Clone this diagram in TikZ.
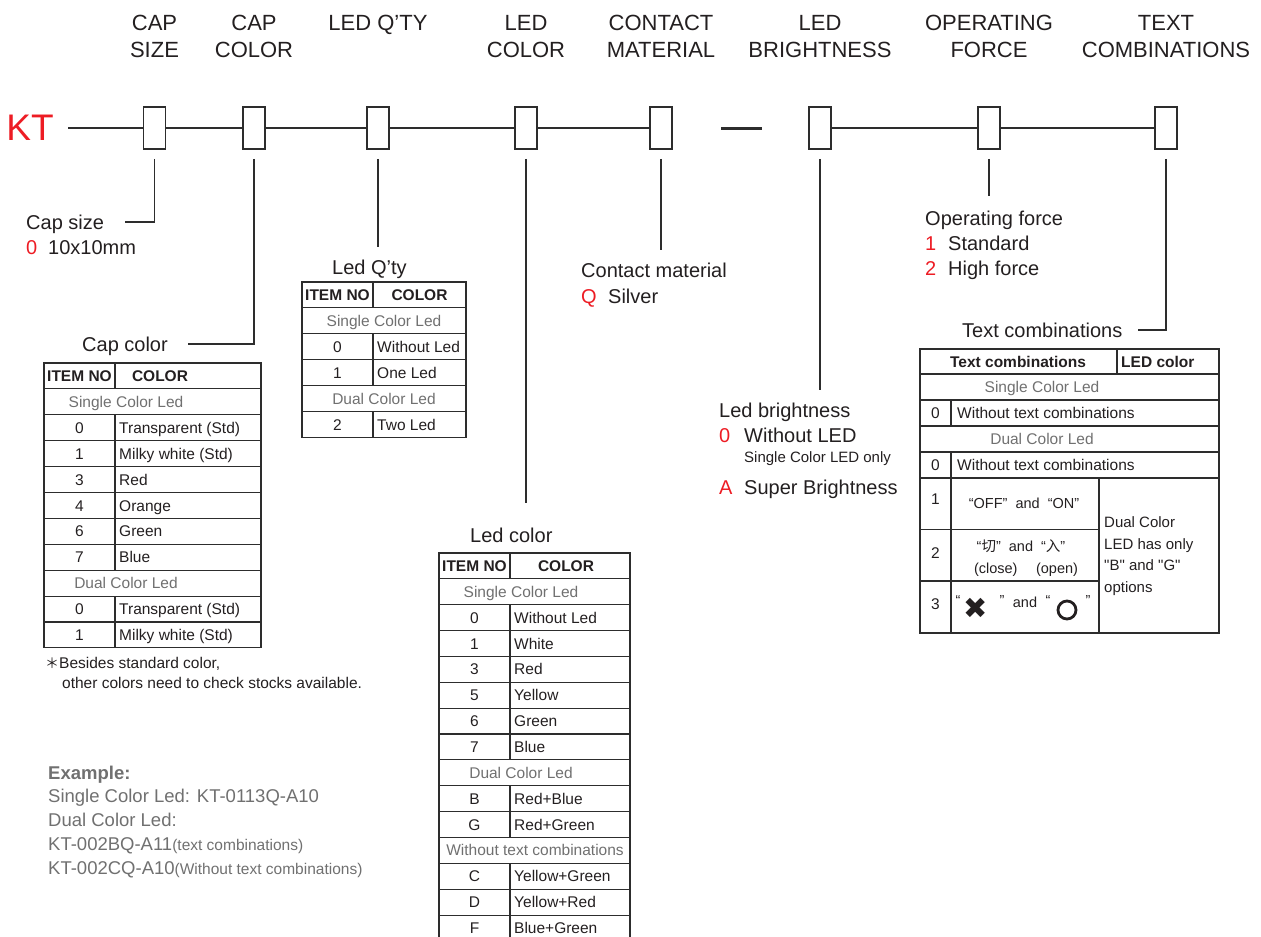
\documentclass[tikz,border=0pt]{standalone}
\usepackage{fontspec}
\setmainfont{Liberation Sans}[Ligatures=TeXOff]
\newfontfamily\cjk{Noto Sans CJK SC}
\newfontfamily\dejavu{DejaVu Sans}
\definecolor{kred}{RGB}{237,28,36}
\definecolor{ink}{RGB}{35,31,32}
\definecolor{gtext}{RGB}{112,112,112}
\definecolor{lcol}{RGB}{45,45,45}
\begin{document}
\begin{tikzpicture}[x=1pt,y=-1pt,
  hdr/.style={font=\fontsize{22}{27}\selectfont, align=center, anchor=north, inner sep=0pt, text=ink},
  lab/.style={font=\fontsize{20}{24}\selectfont, inner sep=0pt, text height=14.3pt, text depth=0pt, anchor=west, text=ink},
  rlab/.style={lab, text=kred},
  small/.style={font=\fontsize{15}{18}\selectfont, inner sep=0pt, text height=10.8pt, text depth=0pt, anchor=west, text=ink},
  cell/.style={font=\fontsize{15.5}{18}\selectfont, inner sep=0pt, text height=11.1pt, text depth=0pt, text=ink},
  tcell/.style={cell, anchor=west},
  sect/.style={cell, text=gtext},
  bhead/.style={cell, font=\fontsize{15.5}{18}\selectfont\bfseries},
  ex/.style={font=\fontsize{18.5}{22}\selectfont, inner sep=0pt, text height=13.3pt, text depth=0pt, anchor=west, text=gtext},
  qm/.style={font=\fontsize{14.5}{14.5}\selectfont, inner sep=0pt, text=ink},
  pbox/.style={draw=lcol, line width=1.8pt, minimum width=22pt, minimum height=42pt, inner sep=0pt},
  mainline/.style={draw=lcol, line width=1.6pt},
  conn/.style={draw=lcol, line width=1.4pt},
  tab/.style={draw=lcol, line width=1.1pt}
]
\useasboundingbox (0,0) rectangle (1261,937);

% ---------- header ----------
\node[hdr] (h1) at (154.5,15) {CAP\\SIZE};
\node[hdr] (h2) at (254,15) {CAP\\COLOR};
\node[hdr] (h3) at (378,15) {LED Q’TY};
\node[hdr] (h4) at (526,15) {LED\\COLOR};
\node[hdr] (h5) at (661,15) {CONTACT\\MATERIAL};
\node[hdr] (h6) at (820,15) {LED\\BRIGHTNESS};
\node[hdr] (h7) at (989,15) {OPERATING\\FORCE};
\node[hdr] (h8) at (1166,15) {TEXT\\COMBINATIONS};

% ---------- code line ----------
\node[font=\fontsize{37}{40}\selectfont, text=kred, inner sep=0pt, text height=26.5pt, text depth=0pt] (kt) at (30,127) {KT};
\coordinate (start) at (68,128);
\node[pbox] (b1) at (154.5,128) {};
\node[pbox] (b2) at (254,128) {};
\node[pbox] (b3) at (378,128) {};
\node[pbox] (b4) at (526,128) {};
\node[pbox] (b5) at (661,128) {};
\node[pbox] (b6) at (820,128) {};
\node[pbox] (b7) at (989,128) {};
\node[pbox] (b8) at (1166,128) {};
\draw[mainline] (start) -- (b1.west);
\draw[mainline] (b1.east) -- (b2.west);
\draw[mainline] (b2.east) -- (b3.west);
\draw[mainline] (b3.east) -- (b4.west);
\draw[mainline] (b4.east) -- (b5.west);
\draw[mainline] (b6.east) -- (b7.west);
\draw[mainline] (b7.east) -- (b8.west);
\coordinate (d1) at (721,128);
\coordinate (d2) at (762,128);
\draw[draw=lcol, line width=3pt] (d1) -- (d2);

% ---------- drop connectors ----------
\coordinate (e1) at (125,222);
\coordinate (e2) at (188,344);
\coordinate (e3) at (378,247);
\coordinate (e4) at (526,503);
\coordinate (e5) at (661,250);
\coordinate (e6) at (820,390);
\coordinate (e7) at (989,196);
\coordinate (e8) at (1138,330);
\draw[conn] ([yshift=-9pt]b1.south) |- (e1);
\draw[conn] ([yshift=-9pt]b2.south) |- (e2);
\draw[conn] ([yshift=-9pt]b3.south) -- (e3);
\draw[conn] ([yshift=-9pt]b4.south) -- (e4);
\draw[conn] ([yshift=-9pt]b5.south) -- (e5);
\draw[conn] ([yshift=-9pt]b6.south) -- (e6);
\draw[conn] ([yshift=-9pt]b7.south) -- (e7);
\draw[conn] ([yshift=-9pt]b8.south) |- (e8);

% ---------- labels ----------
\node[lab] (l1) at (26,222) {Cap size};
\node[rlab] (l1a) at (26,247) {0};
\node[lab] (l1b) at (48,247) {10x10mm};
\node[lab] (l2) at (82,344) {Cap color};
\node[lab] (l3) at (332,267) {Led Q’ty};
\node[lab] (l4) at (470,535) {Led color};
\node[lab] (l5) at (581,270) {Contact material};
\node[rlab] (l5a) at (581,296) {Q};
\node[lab] (l5b) at (608,296) {Silver};
\node[lab] (l6) at (719,410) {Led brightness};
\node[rlab] (l6a) at (719,435) {0};
\node[lab] (l6b) at (744,435) {Without LED};
\node[small] (l6c) at (744,457) {Single Color LED only};
\node[rlab] (l6d) at (719,487) {A};
\node[lab] (l6e) at (744,487) {Super Brightness};
\node[lab] (l7) at (925,218) {Operating force};
\node[rlab] (l7a) at (925,243) {1};
\node[lab] (l7b) at (948,243) {Standard};
\node[rlab] (l7c) at (925,268) {2};
\node[lab] (l7d) at (948,268) {High force};
\node[lab] (l8) at (962,330) {Text combinations};

% ---------- Cap color table ----------
\draw[tab] (44,363) rectangle (261,{363+11*25.9});
\foreach \i in {1,...,10} \draw[tab] (44,{363+\i*25.9}) -- (261,{363+\i*25.9});
\foreach \i in {0,2,3,4,5,6,7,9,10} \draw[tab] (115,{363+\i*25.9}) -- (115,{363+(\i+1)*25.9});
\node[bhead] (cc-h1) at (79.5,{363+0.5*25.9}) {ITEM NO};
\node[bhead] (cc-h2) at (160,{363+0.5*25.9}) {COLOR};
\node[sect] (cc-s1) at (126,{363+1.5*25.9}) {Single Color Led};
\node[sect] (cc-s2) at (126,{363+8.5*25.9}) {Dual Color Led};
\foreach \i/\n/\t in {2/0/Transparent (Std),3/1/Milky white (Std),4/3/Red,5/4/Orange,6/6/Green,7/7/Blue,9/0/Transparent (Std),10/1/Milky white (Std)} {
  \node[cell] (cc-n\i) at (79.5,{363+(\i+0.5)*25.9}) {\n};
  \node[tcell] (cc-t\i) at (119,{363+(\i+0.5)*25.9}) {\t};
}
\node[cell, anchor=west] (fn1) at (45,663) {{\cjk\fontsize{14}{14}\selectfont ＊}Besides standard color,};
\node[cell, anchor=west] (fn2) at (62,683) {other colors need to check stocks available.};

% ---------- Led Q'ty table ----------
\draw[tab] (302,282) rectangle (466,{282+6*25.9});
\foreach \i in {1,...,5} \draw[tab] (302,{282+\i*25.9}) -- (466,{282+\i*25.9});
\foreach \i in {0,2,3,5} \draw[tab] (373,{282+\i*25.9}) -- (373,{282+(\i+1)*25.9});
\node[bhead] (lq-h1) at (337.5,{282+0.5*25.9}) {ITEM NO};
\node[bhead] (lq-h2) at (419.5,{282+0.5*25.9}) {COLOR};
\node[sect] (lq-s1) at (384,{282+1.5*25.9}) {Single Color Led};
\node[sect] (lq-s2) at (384,{282+4.5*25.9}) {Dual Color Led};
\foreach \i/\n/\t in {2/0/Without Led,3/1/One Led,5/2/Two Led} {
  \node[cell] (lq-n\i) at (337.5,{282+(\i+0.5)*25.9}) {\n};
  \node[tcell] (lq-t\i) at (377,{282+(\i+0.5)*25.9}) {\t};
}

% ---------- Led color table ----------
\draw[tab] (439,553) rectangle (630,{553+15*25.86});
\foreach \i in {1,...,14} \draw[tab] (439,{553+\i*25.86}) -- (630,{553+\i*25.86});
\foreach \i in {0,2,3,4,5,6,7,9,10,12,13,14} \draw[tab] (510,{553+\i*25.86}) -- (510,{553+(\i+1)*25.86});
\node[bhead] (lc-h1) at (474.5,{553+0.5*25.86}) {ITEM NO};
\node[bhead] (lc-h2) at (566,{553+0.5*25.86}) {COLOR};
\node[sect] (lc-s1) at (521,{553+1.5*25.86}) {Single Color Led};
\node[sect] (lc-s2) at (521,{553+8.5*25.86}) {Dual Color Led};
\node[sect] (lc-s3) at (535,{553+11.5*25.86}) {Without text combinations};
\foreach \i/\n/\t in {2/0/Without Led,3/1/White,4/3/Red,5/5/Yellow,6/6/Green,7/7/Blue,9/B/Red+Blue,10/G/Red+Green,12/C/Yellow+Green,13/D/Yellow+Red,14/F/Blue+Green} {
  \node[cell] (lc-n\i) at (474.5,{553+(\i+0.5)*25.86}) {\n};
  \node[tcell] (lc-t\i) at (514,{553+(\i+0.5)*25.86}) {\t};
}

% ---------- Text combinations table ----------
\draw[tab] (920,349) rectangle (1219,633);
\foreach \yy in {374,400,426,452,478} \draw[tab] (920,\yy) -- (1219,\yy);
\draw[tab] (920,529.5) -- (1099,529.5);
\draw[tab] (920,581) -- (1099,581);
\draw[tab] (1117,349) -- (1117,374);
\draw[tab] (951,400) -- (951,426);
\draw[tab] (951,452) -- (951,633);
\draw[tab] (1099,478) -- (1099,633);
\node[bhead] (tc-h1) at (1018,361.5) {Text combinations};
\node[bhead, anchor=west] (tc-h2) at (1121,361.5) {LED color};
\node[sect] (tc-s1) at (1042,387) {Single Color Led};
\node[cell] (tc-n1) at (935.5,413) {0};
\node[tcell] (tc-t1) at (957,413) {Without text combinations};
\node[sect] (tc-s2) at (1042,439) {Dual Color Led};
\node[cell] (tc-n2) at (935.5,465) {0};
\node[tcell] (tc-t2) at (957,465) {Without text combinations};
\node[cell] (tc-n3) at (935.5,499) {1};
\node[cell] (tc-n4) at (935.5,553) {2};
\node[cell] (tc-n5) at (935.5,604) {3};
\node[cell, font=\fontsize{14.5}{17}\selectfont] (tc-r1) at (1024,503) {“OFF”\ \ and\ \ “ON”};
\node[cell, font=\fontsize{14.5}{17}\selectfont] (tc-r2a) at (1021,546) {“{\cjk 切}”\ \ and\ \ “{\cjk 入}”};
\node[cell, font=\fontsize{14.5}{17}\selectfont] (tc-r2b) at (1026,568) {(close)\quad\ (open)};
\node[qm] (q1) at (958,601) {“};
\node[font=\fontsize{29}{29}\selectfont\dejavu, inner sep=0pt, text=ink] (xx) at (976,608) {✖};
\node[qm] (q2) at (1002,601) {”};
\node[cell, font=\fontsize{14.5}{17}\selectfont] (and3) at (1025,602) {and};
\node[qm] (q3) at (1048,601) {“};
\node[circle, draw=ink, line width=2.8pt, minimum size=18pt, inner sep=0pt] (oo) at (1067,610) {};
\node[qm] (q4) at (1088,601) {”};
\node[font=\fontsize{15}{21.5}\selectfont, align=left, anchor=north west, inner sep=0pt, text=ink] (tc-note) at (1104,516.5) {Dual Color\\LED has only\\"B" and "G"\\options};

% ---------- example ----------
\node[ex, font=\fontsize{18.5}{22}\selectfont\bfseries] (ex0) at (48,773) {Example:};
\node[ex] (ex1) at (48,796) {Single Color Led: KT-0113Q-A10};
\node[ex] (ex2) at (48,820) {Dual Color Led:};
\node[ex] (ex3) at (48,844) {KT-002BQ-A11{\fontsize{15.5}{18}\selectfont(text combinations)}};
\node[ex] (ex4) at (48,868) {KT-002CQ-A10{\fontsize{15.5}{18}\selectfont(Without text combinations)}};
\end{tikzpicture}
\end{document}
